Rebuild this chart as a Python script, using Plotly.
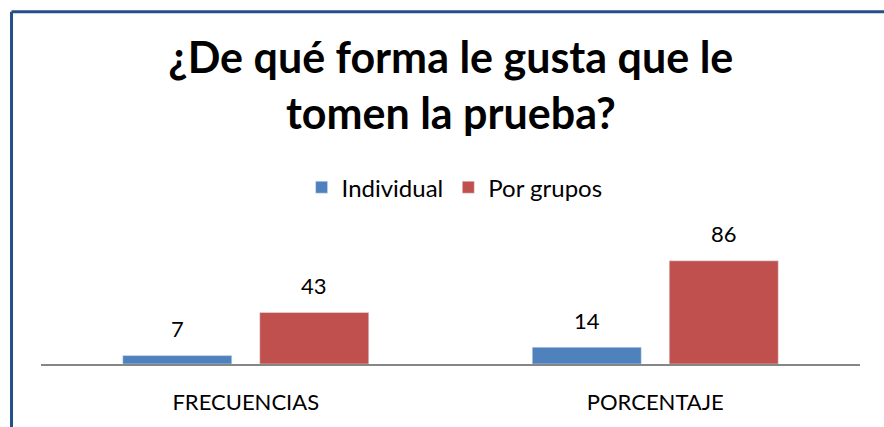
import plotly.graph_objs as go

# datos del gráfico
categorias = ["FRECUENCIAS", "PORCENTAJE"]
individual = [7, 14]
por_grupos = [43, 86]

fig = go.Figure()
fig.add_trace(go.Bar(x=categorias, y=individual, name="Individual",
                     marker_color="#4F81BD"))
fig.add_trace(go.Bar(x=categorias, y=por_grupos, name="Por grupos",
                     marker_color="#C0504D"))

# etiquetas de valor encima de cada barra
for vals, shift in [(individual, -68.5), (por_grupos, 68.5)]:
    for cat, v in zip(categorias, vals):
        fig.add_annotation(x=cat, y=v, text=str(v), showarrow=False,
                           xshift=shift, yshift=27, yanchor="middle",
                           font=dict(size=22, color="#000000"))

# borde del gráfico (solo arriba e izquierda son visibles)
borde = dict(color="#254F8A", width=3)
fig.add_shape(type="line", xref="paper", yref="paper",
              x0=-0.036, x1=1.1, y0=2.935, y1=2.935, line=borde)
fig.add_shape(type="line", xref="paper", yref="paper",
              x0=-0.036, x1=-0.036, y0=-1, y1=2.935, line=borde)

fig.update_layout(
    width=884, height=427,
    margin=dict(l=41, r=24, t=244, b=60),
    paper_bgcolor="white", plot_bgcolor="white",
    font=dict(family="Lato, Open Sans, sans-serif", color="#000000"),
    title=dict(text="<b>¿De qué forma le gusta que le<br>tomen la prueba?</b>",
               x=0.51, xanchor="center", y=1 - 73 / 427, yanchor="middle",
               yref="container", font=dict(size=43, color="#000000")),
    barmode="group", bargap=0.331, bargroupgap=0.204,
    showlegend=True,
    legend=dict(orientation="h", x=0.505, xanchor="center", y=1.47,
                yanchor="middle", font=dict(size=24), itemwidth=30),
    xaxis=dict(showline=True, linecolor="#868686", linewidth=2, ticks="",
               tickfont=dict(size=22), ticklabelstandoff=18, showgrid=False),
    yaxis=dict(range=[0, 100], visible=False),
)

fig.write_html("out.html", config={"displayModeBar": False},
               post_script="document.body.style.margin='0px';"
                           "document.body.style.overflow='hidden';"
                           "document.documentElement.style.overflow='hidden';")
